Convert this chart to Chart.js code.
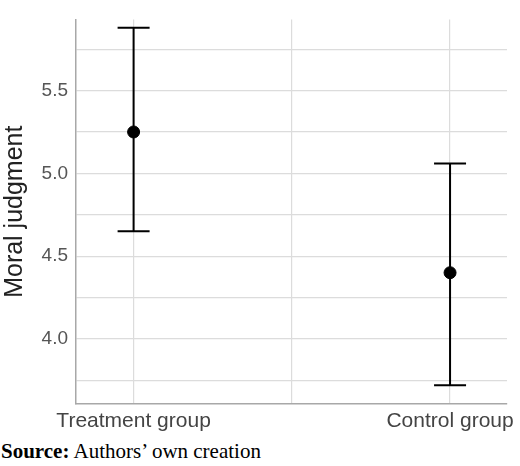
<!DOCTYPE html>
<html>
<head>
<meta charset="utf-8">
<script src="https://cdn.jsdelivr.net/npm/chart.js@4"></script>
<style>
  body { margin: 0; background: #fff; }
  #wrap { position: relative; width: 520px; height: 440px; }
  .source { margin: 0; padding-left: 1px; font-family: "Liberation Serif", serif; font-size: 21px; color: #000; line-height: 22px; }
</style>
</head>
<body>
<div id="wrap"><canvas id="chart"></canvas></div>
<p class="source"><b>Source:</b> Authors’ own creation</p>
<script>
// groups and values
const groups = ['Treatment group', 'Control group'];
const means = [5.25, 4.40];
const upper = [5.88, 5.06];
const lower = [4.65, 3.72];

const points = groups.map((g, i) => ({ x: i + 1, y: means[i] }));

const errorBars = {
  id: 'errorBars',
  afterDatasetsDraw(chart) {
    const { ctx, scales } = chart;
    ctx.save();
    ctx.strokeStyle = '#000';
    ctx.lineWidth = 2;
    groups.forEach((g, i) => {
      const x = scales.x.getPixelForValue(i + 1);
      const yTop = scales.y.getPixelForValue(upper[i]);
      const yBot = scales.y.getPixelForValue(lower[i]);
      ctx.beginPath();
      ctx.moveTo(x, yTop); ctx.lineTo(x, yBot);
      ctx.moveTo(x - 16, yTop); ctx.lineTo(x + 16, yTop);
      ctx.moveTo(x - 16, yBot); ctx.lineTo(x + 16, yBot);
      ctx.stroke();
    });
    ctx.restore();
  }
};

new Chart(document.getElementById('chart'), {
  type: 'scatter',
  data: {
    datasets: [{
      data: points,
      backgroundColor: '#000',
      borderColor: '#000',
      pointRadius: 6,
      pointHoverRadius: 6
    }]
  },
  options: {
    responsive: true,
    maintainAspectRatio: false,
    animation: false,
    layout: { padding: { top: 0, right: 10, left: 0, bottom: 0 } },
    plugins: { legend: { display: false }, tooltip: { enabled: false } },
    scales: {
      x: {
        type: 'linear',
        min: 0.818,
        max: 2.18,
        afterBuildTicks(axis) { axis.ticks = [{ value: 1 }, { value: 1.5 }, { value: 2 }]; },
        afterFit(axis) { axis.height = 36; },
        grid: { color: '#dcdcdc', lineWidth: 1.2, drawTicks: false },
        border: { color: '#a8a8a8', width: 1.5 },
        ticks: {
          color: '#444',
          padding: 5,
          font: { family: 'Arial, "Liberation Sans", sans-serif', size: 21 },
          callback: v => (v === 1 || v === 2) ? groups[v - 1] : ''
        }
      },
      y: {
        min: 3.607,
        max: 5.93,
        afterBuildTicks(axis) {
          axis.ticks = [3.75, 4.0, 4.25, 4.5, 4.75, 5.0, 5.25, 5.5, 5.75].map(v => ({ value: v }));
        },
        afterFit(axis) { axis.width = 76; },
        grid: { color: '#dcdcdc', lineWidth: 1.2, drawTicks: false },
        border: { color: '#a8a8a8', width: 1.5 },
        title: {
          display: true,
          text: 'Moral judgment',
          color: '#222',
          font: { family: 'Arial, "Liberation Sans", sans-serif', size: 25 },
          padding: { top: 0, bottom: 2 }
        },
        ticks: {
          color: '#555',
          padding: 8,
          font: { family: 'Arial, "Liberation Sans", sans-serif', size: 19 },
          callback: v => (Math.abs(v * 2 - Math.round(v * 2)) < 1e-6) ? v.toFixed(1) : ''
        }
      }
    }
  },
  plugins: [errorBars]
});
</script>
</body>
</html>
